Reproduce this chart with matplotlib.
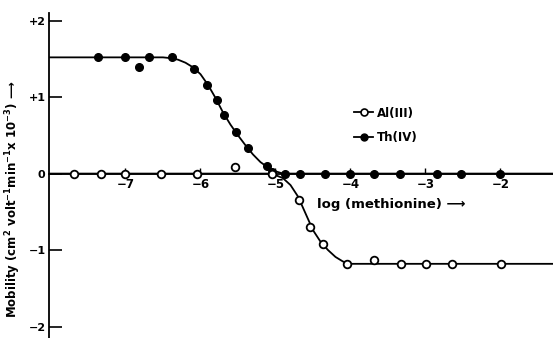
import matplotlib
matplotlib.use("Agg")
import matplotlib.pyplot as plt
from matplotlib.lines import Line2D

# measured points, x = log(methionine), y = mobility (cm2 V-1 min-1 x 10^-3)
al_x = [-7.68, -7.32, -7.00, -6.53, -6.04, -5.54, -5.04, -4.68, -4.54, -4.36,
        -4.05, -3.69, -3.33, -2.99, -2.64, -1.99]
al_y = [0.0, 0.0, 0.0, 0.0, 0.0, 0.09, 0.0, -0.34, -0.70, -0.92,
        -1.18, -1.13, -1.18, -1.18, -1.18, -1.18]

th_x = [-7.36, -7.00, -6.82, -6.68, -6.38, -6.08, -5.91, -5.78, -5.69, -5.53,
        -5.37, -5.11, -5.04, -4.87, -4.67, -4.34, -4.00, -3.69, -3.34, -2.85,
        -2.53, -2.01]
th_y = [1.52, 1.52, 1.40, 1.52, 1.52, 1.37, 1.16, 0.96, 0.77, 0.54,
        0.33, 0.10, 0.02, 0.0, 0.0, 0.0, 0.0, 0.0, 0.0, 0.0,
        0.0, 0.0]

# drawn (fitted) curves
th_curve_x = [-8.02, -6.5, -6.4, -6.3, -6.2, -6.1, -6.0, -5.9, -5.8, -5.7, -5.6,
              -5.5, -5.4, -5.3, -5.2, -5.1, -5.0, -4.9, -1.3]
th_curve_y = [1.52, 1.52, 1.51, 1.49, 1.45, 1.39, 1.30, 1.16, 0.99, 0.80, 0.64,
              0.50, 0.37, 0.25, 0.15, 0.08, 0.03, 0.0, 0.0]
al_curve_x = [-8.02, -5.1, -5.0, -4.9, -4.8, -4.7, -4.6, -4.5, -4.4, -4.3, -4.2,
              -4.1, -4.0, -1.3]
al_curve_y = [0.0, 0.0, -0.02, -0.06, -0.15, -0.30, -0.52, -0.74, -0.89, -1.0,
              -1.09, -1.15, -1.18, -1.18]

xticks = [-7, -6, -5, -4, -3, -2]
xlabels = ["\u22127", "\u22126", "\u22125", "\u22124", "\u22123", "\u22122"]
yticks = [2, 1, 0, -1, -2]
ylabels = ["+2", "+1", "0", "\u22121", "\u22122"]

plt.rcParams["font.family"] = "DejaVu Sans"
plt.rcParams["font.weight"] = "bold"

fig = plt.figure(figsize=(5.53, 3.38), dpi=100, facecolor="white")
ax = fig.add_axes([0.0886, 0.0, 0.9114, 0.9615])

ax.plot(th_curve_x, th_curve_y, color="black", lw=1.3, zorder=2)
ax.plot(al_curve_x, al_curve_y, color="black", lw=1.3, zorder=2)
ax.plot(th_x, th_y, "o", ms=5.5, mfc="black", mec="black", zorder=3)
ax.plot(al_x, al_y, "o", ms=5.5, mfc="white", mec="black", mew=1.3, zorder=3)

ax.set_xlim(-8.02, -1.3)
ax.set_ylim(-2.15, 2.1)

ax.spines["top"].set_visible(False)
ax.spines["right"].set_visible(False)
ax.spines["bottom"].set_position(("data", 0))
ax.spines["bottom"].set_linewidth(1.3)
ax.spines["left"].set_linewidth(1.3)

ax.set_xticks(xticks)
ax.set_xticklabels(xlabels, fontsize=8.5, fontweight="bold")
ax.set_yticks(yticks)
ax.set_yticklabels(ylabels, fontsize=8, fontweight="bold")
ax.tick_params(axis="x", direction="in", length=4, width=1, pad=3)
ax.tick_params(axis="y", direction="in", length=9, width=1.2, pad=2.5)

ax.text(-4.44, -0.4, "log (methionine) \u27f6", fontsize=9.5, fontweight="bold",
        ha="left", va="center")

fig.text(0.024, 0.41, "Mobility (cm$^{\\mathbf{2}}$ volt$^{\\mathbf{-1}}$min$^{\\mathbf{-1}}$x 10$^{\\mathbf{-3}}$) \u27f6",
         rotation=90, fontsize=8.5, fontweight="bold", ha="center", va="center")

handles = [
    Line2D([], [], color="black", lw=1.3, marker="o", ms=5, mfc="white", mec="black", mew=1.2),
    Line2D([], [], color="black", lw=1.3, marker="o", ms=5, mfc="black", mec="black"),
]
ax.legend(handles, ["Al(III)", "Th(IV)"], loc="upper left",
          bbox_to_anchor=(0.585, 0.745), frameon=False, handlelength=1.6,
          handletextpad=0.3, labelspacing=0.95, prop={"size": 8.5, "weight": "bold"})

fig.savefig("out.png", dpi=100, facecolor="white")
